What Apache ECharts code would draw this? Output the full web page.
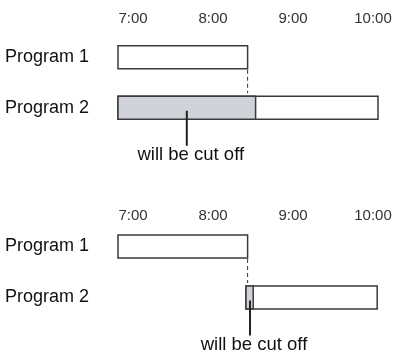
<!DOCTYPE html>
<html>
<head>
<meta charset="utf-8">
<script src="https://cdn.jsdelivr.net/npm/echarts@6/dist/echarts.min.js"></script>
<style>
  html, body { margin: 0; padding: 0; background: #fff; }
  #chart { width: 396px; height: 350px; }
</style>
</head>
<body>
<div id="chart"></div>
<script>
// rows and time ticks
const programs = ['Program 1', 'Program 2'];
const hourTicks = [7, 8, 9, 10];
const tickLabels = ['7:00', '8:00', '9:00', '10:00'];

// case 1: program 2 starts at 7:00 (hours as decimals)
const topProgram1 = [7, 8.62];
const topProgram2 = [7, 10.25];
const topCut = [7, 8.72];
const topPointer = 7.86;

// case 2: program 2 starts when program 1 ends
const bottomProgram1 = [7, 8.62];
const bottomProgram2 = [8.6, 10.24];
const bottomCut = [8.6, 8.69];
const bottomPointer = 8.65;

const cutText = 'will be cut off';
const BAR_H = 23;

var chart = echarts.init(document.getElementById('chart'));

function boxes(p1, p2, cut) {
  return [
    [p1[0], p1[1], 0, 'box'],
    [p2[0], p2[1], 1, 'box'],
    [cut[0], cut[1], 1, 'cut']
  ];
}

function renderBox(params, api) {
  var a = api.coord([api.value(0), api.value(2)]);
  var b = api.coord([api.value(1), api.value(2)]);
  var kind = api.value(3);
  return {
    type: 'rect',
    shape: { x: a[0], y: a[1] - BAR_H / 2, width: b[0] - a[0], height: BAR_H },
    style: {
      fill: kind === 'cut' ? '#cfd3d9' : '#fff',
      stroke: '#3a3a3a',
      lineWidth: 1.5
    }
  };
}

function renderDash(params, api) {
  var a = api.coord([api.value(0), 0]);
  var b = api.coord([api.value(0), 1]);
  return {
    type: 'line',
    shape: { x1: a[0], y1: a[1] + BAR_H / 2 + 1, x2: b[0], y2: b[1] - BAR_H / 2 - 3 },
    style: { stroke: '#333', lineWidth: 1, lineDash: [4, 3] }
  };
}

function renderPointer(params, api) {
  var p = api.coord([api.value(0), 1]);
  return {
    type: 'group',
    children: [
      {
        type: 'line',
        shape: { x1: p[0], y1: p[1] + 3, x2: p[0], y2: p[1] + 38 },
        style: { stroke: '#222', lineWidth: 2 }
      },
      {
        type: 'text',
        x: p[0] + 4,
        y: p[1] + 38,
        style: {
          text: cutText,
          font: '18.5px "Liberation Sans", Arial, sans-serif',
          fill: '#111',
          align: 'center',
          verticalAlign: 'top'
        }
      }
    ]
  };
}

function xAxisFor(gridIndex, margin) {
  return {
    gridIndex: gridIndex,
    type: 'value',
    position: 'top',
    min: 7,
    max: 10.25,
    interval: 1,
    axisLine: { show: false },
    axisTick: { show: false },
    splitLine: { show: false },
    axisLabel: {
      margin: margin,
      showMaxLabel: false,
      align: 'center',
      padding: [0, 0, 0, 30],
      color: '#333',
      fontSize: 15,
      fontFamily: '"Liberation Sans", Arial, sans-serif',
      formatter: function (v) {
        var i = hourTicks.indexOf(v);
        return i < 0 ? '' : tickLabels[i];
      }
    }
  };
}

function yAxisFor(gridIndex) {
  return {
    gridIndex: gridIndex,
    type: 'category',
    data: programs,
    inverse: true,
    axisLine: { show: false },
    axisTick: { show: false },
    splitLine: { show: false },
    axisLabel: {
      align: 'left',
      margin: 113,
      color: '#111',
      fontSize: 18,
      fontFamily: '"Liberation Sans", Arial, sans-serif'
    }
  };
}

var option = {
  animation: false,
  grid: [
    { left: 118, right: 18, top: 32, height: 101 },
    { left: 118, right: 18, top: 221, height: 102 }
  ],
  xAxis: [xAxisFor(0, 6), xAxisFor(1, -2)],
  yAxis: [yAxisFor(0), yAxisFor(1)],
  series: [
    {
      type: 'custom', xAxisIndex: 0, yAxisIndex: 0,
      renderItem: renderBox, data: boxes(topProgram1, topProgram2, topCut)
    },
    {
      type: 'custom', xAxisIndex: 0, yAxisIndex: 0,
      renderItem: renderDash, data: [[topProgram1[1]]]
    },
    {
      type: 'custom', xAxisIndex: 0, yAxisIndex: 0,
      renderItem: renderPointer, data: [[topPointer]]
    },
    {
      type: 'custom', xAxisIndex: 1, yAxisIndex: 1,
      renderItem: renderBox, data: boxes(bottomProgram1, bottomProgram2, bottomCut)
    },
    {
      type: 'custom', xAxisIndex: 1, yAxisIndex: 1,
      renderItem: renderDash, data: [[bottomProgram1[1]]]
    },
    {
      type: 'custom', xAxisIndex: 1, yAxisIndex: 1,
      renderItem: renderPointer, data: [[bottomPointer]]
    }
  ]
};

chart.setOption(option);
window.addEventListener('resize', function () {
  chart.resize();
});
</script>
</body>
</html>
